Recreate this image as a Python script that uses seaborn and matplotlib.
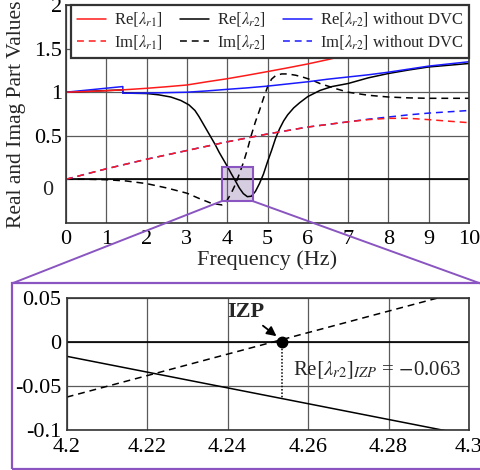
import matplotlib
matplotlib.use("Agg")
import matplotlib.pyplot as plt
import seaborn as sns
from matplotlib.patches import Rectangle, ConnectionPatch

# ---------------- data ----------------
re_r1_freq = [0, 0.5, 1.0, 1.41, 2.0, 2.5, 3.0, 3.5, 4.0, 4.5, 5.0, 5.5, 6.0, 6.5, 7.0]
re_r1_val = [1.0, 1.008, 1.017, 1.027, 1.045, 1.063, 1.083, 1.12, 1.155, 1.195, 1.237, 1.28, 1.325, 1.375, 1.43]

im_r1_freq = [0, 0.5, 1.0, 1.5, 2.0, 2.5, 3.0, 3.5, 4.0, 4.5, 5.0, 5.5, 6.0, 6.5, 7.0, 7.5, 8.0, 8.5, 9.0, 9.5, 10.0]
im_r1_val = [0.0, 0.06, 0.12, 0.175, 0.23, 0.28, 0.33, 0.38, 0.43, 0.475, 0.52, 0.56, 0.60, 0.63, 0.66, 0.685, 0.70, 0.70, 0.685, 0.667, 0.65]

re_r2_freq = [0, 1.41, 1.41, 2.0, 2.3, 2.6, 2.85, 3.05, 3.2, 3.3, 3.4, 3.5, 3.6, 3.7, 3.8, 3.9,
              4.0, 4.1, 4.2, 4.3, 4.4, 4.5, 4.6, 4.7, 4.8, 4.9, 5.0, 5.1, 5.2, 5.3, 5.4, 5.5,
              5.65, 5.8, 6.0, 6.3, 6.6, 7.0, 7.5, 8.0, 8.5, 9.0, 9.5, 10.0]
re_r2_val = [1.0, 1.027, 0.99, 0.985, 0.97, 0.945, 0.905, 0.855, 0.79, 0.72, 0.64, 0.56, 0.48, 0.40, 0.31, 0.23,
             0.15, 0.065, -0.016, -0.10, -0.165, -0.20, -0.195, -0.14, -0.05, 0.06, 0.20, 0.33, 0.47, 0.58, 0.67, 0.74,
             0.82, 0.88, 0.95, 1.02, 1.065, 1.10, 1.165, 1.215, 1.255, 1.29, 1.31, 1.33]

im_r2_freq = [0, 0.5, 1.0, 1.5, 2.0, 2.5, 3.0, 3.3, 3.6, 3.8, 3.87, 3.93, 4.0, 4.1, 4.2, 4.3, 4.4, 4.5,
              4.6, 4.7, 4.8, 4.9, 5.0, 5.1, 5.2, 5.35, 5.5, 5.7, 5.9, 6.1, 6.3, 6.5, 6.7, 7.0, 7.5,
              8.0, 8.5, 9.0, 9.5, 10.0]
im_r2_val = [0.0, 0.0, -0.005, -0.02, -0.05, -0.10, -0.16, -0.22, -0.275, -0.29, -0.295, -0.285, -0.24, -0.16,
             -0.0625, 0.06, 0.19, 0.34, 0.51, 0.66, 0.79, 0.93, 1.06, 1.15, 1.19, 1.21, 1.21, 1.195, 1.17, 1.14,
             1.10, 1.07, 1.04, 1.0, 0.965, 0.945, 0.935, 0.93, 0.93, 0.93]

re_nodvc_freq = [0, 1.41, 1.41, 2.0, 2.5, 3.0, 3.5, 4.0, 4.5, 5.0, 5.5, 6.0, 6.5, 7.0, 7.5, 8.0, 8.5, 9.0, 9.5, 10.0]
re_nodvc_val = [1.0, 1.065, 0.988, 0.99, 0.995, 1.0, 1.015, 1.033, 1.05, 1.07, 1.095, 1.12, 1.15, 1.175, 1.2, 1.23, 1.265, 1.30, 1.325, 1.35]

im_nodvc_freq = [0, 0.5, 1.0, 1.5, 2.0, 2.5, 3.0, 3.5, 4.0, 4.5, 5.0, 5.5, 6.0, 6.5, 7.0, 7.5, 8.0, 8.5, 9.0, 9.5, 10.0]
im_nodvc_val = [0.0, 0.06, 0.12, 0.175, 0.23, 0.28, 0.33, 0.38, 0.43, 0.475, 0.52, 0.56, 0.60, 0.63, 0.66, 0.69, 0.715, 0.74, 0.76, 0.775, 0.79]

# zoomed view
zoom_freq = [4.2, 4.3]
zoom_re_val = [-0.016, -0.106]
zoom_im_val = [-0.0625, 0.06]
izp_freq = 4.2535
izp_re = -0.063

main_xticks = list(range(0, 11))
main_yticks = [0, 0.5, 1, 1.5, 2]
main_ytick_labels = ["", "0.5", "1", "1.5", "2"]
zoom_xticks = [4.2, 4.22, 4.24, 4.26, 4.28, 4.3]
zoom_xtick_labels = ["4.2", "4.22", "4.24", "4.26", "4.28", "4.3"]
zoom_yticks = [0.05, 0, -0.05, -0.1]
zoom_ytick_labels = ["0.05", "0", "-0.05", "-0.1"]
zoom_box = (3.87, 4.63, -0.25, 0.14)

labels = [r"Re$[\lambda_{r1}]$", r"Im$[\lambda_{r1}]$",
          r"Re$[\lambda_{r2}]$", r"Im$[\lambda_{r2}]$",
          r"Re$[\lambda_{r2}]$ without DVC", r"Im$[\lambda_{r2}]$ without DVC"]

# ---------------- style ----------------
sns.set_theme(style="white")
plt.rcParams['font.family'] = ['Liberation Serif', 'DejaVu Serif']
plt.rcParams['mathtext.fontset'] = 'stix'
plt.rcParams['axes.unicode_minus'] = False

RED = "#ff1a1a"
BLUE = "#1a1aff"
BLACK = "#000000"
PURPLE = "#8a55c0"
GRID = "#5a5a5a"
DASH = (0, (4.5, 3.2))
LW = 1.1
TICK_FS = 16

fig = plt.figure(figsize=(4.8, 4.7), dpi=100)
ax = fig.add_axes([0.1375, 0.526, 0.8396, 0.463])
axz = fig.add_axes([0.139, 0.0851, 0.838, 0.280])

for a in (ax, axz):
    a.set_facecolor("white")
    for s in a.spines.values():
        s.set_color("#333333")
        s.set_linewidth(1.2)
    a.grid(True, color=GRID, lw=0.9)
    a.set_axisbelow(True)
    a.tick_params(length=0, labelsize=TICK_FS, colors="black")

# ---------------- main panel ----------------
ax.axhline(0, color="black", lw=1.2, zorder=1.6)
ax.add_patch(Rectangle((zoom_box[0], zoom_box[2]), zoom_box[1] - zoom_box[0], zoom_box[3] - zoom_box[2],
                       facecolor="#7d5a9e", alpha=0.3, edgecolor="none", zorder=1.5))
ax.add_patch(Rectangle((zoom_box[0], zoom_box[2]), zoom_box[1] - zoom_box[0], zoom_box[3] - zoom_box[2],
                       facecolor="none", edgecolor=PURPLE, lw=1.5, zorder=3))

kw = dict(ax=ax, estimator=None, sort=False, legend=False, lw=LW)
sns.lineplot(x=re_r2_freq, y=re_r2_val, color=BLACK, **kw)
h_r2re = ax.lines[-1]
sns.lineplot(x=im_r2_freq, y=im_r2_val, color=BLACK, ls=DASH, **kw)
h_r2im = ax.lines[-1]
sns.lineplot(x=re_nodvc_freq, y=re_nodvc_val, color=BLUE, **kw)
h_nre = ax.lines[-1]
sns.lineplot(x=im_nodvc_freq, y=im_nodvc_val, color=BLUE, ls=DASH, **kw)
h_nim = ax.lines[-1]
sns.lineplot(x=re_r1_freq, y=re_r1_val, color=RED, **kw)
h_r1re = ax.lines[-1]
sns.lineplot(x=im_r1_freq, y=im_r1_val, color=RED, ls=DASH, **kw)
h_r1im = ax.lines[-1]

ax.set_xlim(0, 10)
ax.set_ylim(-0.5, 2)
ax.set_xticks(main_xticks)
ax.set_xticklabels([str(t) for t in main_xticks])
ax.set_yticks(main_yticks)
ax.set_yticklabels(main_ytick_labels)
ax.tick_params(axis="x", pad=5)
ax.tick_params(axis="y", pad=3)
ax.annotate("0", xy=(0, 0), xycoords=("axes fraction", "data"), xytext=(-13, -11),
            textcoords="offset pixels", ha="right", va="center", fontsize=TICK_FS)
ax.set_xlabel("Frequency (Hz)", fontsize=16, labelpad=1)
ax.set_ylabel("Real and Imag Part Values", fontsize=15.5, labelpad=6)

leg = ax.legend(handles=[h_r1re, h_r1im, h_r2re, h_r2im, h_nre, h_nim], labels=labels,
                ncol=3, loc="upper right", bbox_to_anchor=(1, 1), borderaxespad=0,
                frameon=True, fancybox=False, fontsize=12, handlelength=1.75,
                columnspacing=1.05, handletextpad=0.45, borderpad=0.35, labelspacing=0.25)
leg.get_frame().set_edgecolor("#333333")
leg.get_frame().set_linewidth(1.6)
leg.get_frame().set_alpha(1)

# ---------------- zoom panel ----------------
axz.axhline(0, color="black", lw=1.2, zorder=1.6)
sns.lineplot(x=zoom_freq, y=zoom_re_val, ax=axz, color=BLACK, lw=LW, estimator=None, legend=False)
sns.lineplot(x=zoom_freq, y=zoom_im_val, ax=axz, color=BLACK, lw=LW, ls=DASH, estimator=None, legend=False)
axz.plot([izp_freq, izp_freq], [0, izp_re], color=BLACK, lw=1.1, ls=(0, (1, 1.2)), zorder=2)
axz.plot([izp_freq], [0], marker="o", color="black", ms=7.5, zorder=5)
axz.annotate("IZP", xy=(izp_freq - 0.0008, 0.005), xytext=(4.2445, 0.034),
             fontsize=16, fontweight="bold", ha="center", va="center",
             arrowprops=dict(arrowstyle="-|>", color="black", lw=1.3, mutation_scale=14,
                             shrinkA=0, shrinkB=2))
axz.text(4.2562, -0.032, r"Re$[\lambda_{r2}]_{IZP}$ = $-$0.063", fontsize=15, ha="left", va="center")
axz.set_xlim(4.2, 4.3)
axz.set_ylim(-0.1, 0.05)
axz.set_xticks(zoom_xticks)
axz.set_xticklabels(zoom_xtick_labels)
axz.set_yticks(zoom_yticks)
axz.set_yticklabels(zoom_ytick_labels)
axz.tick_params(axis="x", pad=6)
axz.tick_params(axis="y", pad=4)

# ---------------- purple frame and connectors ----------------
fx0, fy_top, fy_bot = 12.3 / 480, 1 - 283.3 / 470, 1.2 / 470
fig.add_artist(Rectangle((fx0, fy_bot), 1.2, fy_top - fy_bot, transform=fig.transFigure,
                         fill=False, edgecolor=PURPLE, lw=1.6))
for xa, xb in ((zoom_box[0], fx0), (zoom_box[1], 1.0)):
    cp = ConnectionPatch(xyA=(xa, zoom_box[2]), coordsA=ax.transData,
                         xyB=(xb, fy_top), coordsB=fig.transFigure,
                         color=PURPLE, lw=1.4)
    cp.set_clip_on(False)
    fig.add_artist(cp)

fig.savefig("out.png", dpi=100)
